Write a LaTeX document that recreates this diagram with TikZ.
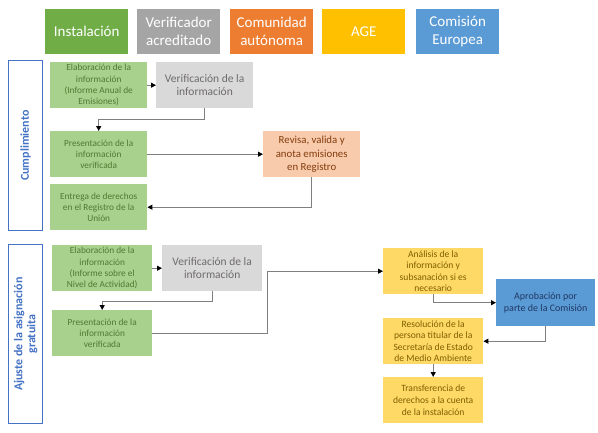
\documentclass[tikz,border=0pt]{standalone}
\usepackage{fontspec}
\setmainfont{Carlito}
\usetikzlibrary{arrows.meta}
\definecolor{hGreen}{HTML}{70AD47}
\definecolor{hGray}{HTML}{A5A5A5}
\definecolor{hOrange}{HTML}{ED7D31}
\definecolor{hGold}{HTML}{FFC000}
\definecolor{hBlue}{HTML}{5B9BD5}
\definecolor{lGreen}{HTML}{A9D18E}
\definecolor{tGreen}{HTML}{4F7A32}
\definecolor{lGray}{HTML}{D9D9D9}
\definecolor{tGray}{HTML}{6F6B6B}
\definecolor{lOrange}{HTML}{F8CBAD}
\definecolor{tOrange}{HTML}{843C0C}
\definecolor{lGold}{HTML}{FFD966}
\definecolor{tGold}{HTML}{7F6000}
\definecolor{tBlue}{HTML}{203864}
\definecolor{sideBlue}{HTML}{4472C4}
\definecolor{lineGray}{HTML}{7F7F7F}
\tikzset{
  hdr/.style={anchor=north west, minimum width=83pt, minimum height=45pt, inner sep=1pt, text=white, align=center, font=\fontsize{15}{18}\selectfont},
  boxbase/.style={anchor=north west, minimum width=97pt, minimum height=46pt, inner sep=0pt, align=center, font=\fontsize{9.3}{11.3}\selectfont},
  gbox/.style={boxbase, fill=lGreen, text=tGreen},
  vbox/.style={boxbase, fill=lGray, text=tGray, font=\fontsize{11.5}{13.5}\selectfont},
  obox/.style={boxbase, fill=lOrange, text=tOrange, font=\fontsize{10.8}{13.5}\selectfont},
  ybox/.style={boxbase, fill=lGold, text=tGold, font=\fontsize{9.6}{11.6}\selectfont},
  bbox/.style={boxbase, fill=hBlue, text=tBlue, font=\fontsize{10}{12.5}\selectfont},
  side/.style={anchor=north west, draw=sideBlue, line width=1.3pt, fill=white, minimum width=34pt, inner sep=0pt},
  sidetext/.style={rotate=90, text=sideBlue, align=center, font=\bfseries\fontsize{12}{13}\selectfont},
  conn/.style={draw=lineGray, line width=0.9pt, -{Triangle[length=5pt,width=5pt,fill=black,color=black]}}
}
\begin{document}
\begin{tikzpicture}[x=1pt, y=-1pt]
\useasboundingbox (0,0) rectangle (598,432);
% headers
\node[hdr, fill=hGreen] (h1) at (45,9) {Instalación};
\node[hdr, fill=hGray] (h2) at (137,9) {Verificador\\acreditado};
\node[hdr, fill=hOrange] (h3) at (230,9) {Comunidad\\autónoma};
\node[hdr, fill=hGold] (h4) at (322,9) {AGE};
\node[hdr, fill=hBlue] (h5) at (416,9) {Comisión\\Europea};
% side labels
\node[side, minimum height=170pt] (s1) at (8,60) {};
\node[sidetext] (s1t) at (s1.center) {Cumplimiento};
\node[side, minimum height=179pt] (s2) at (8,244) {};
\node[sidetext] (s2t) at (s2.center) {Ajuste de la asignación\\gratuita};
% Cumplimiento
\node[gbox] (elab1) at (50,62) {Elaboración de la\\información\\(Informe Anual de\\Emisiones)};
\node[vbox] (verif1) at (156,62) {Verificación de la\\información};
\node[gbox] (pres1) at (50,131) {Presentación de la\\información\\verificada};
\node[obox] (revisa) at (263,131) {Revisa, valida y\\anota emisiones\\en Registro};
\node[gbox] (entrega) at (50,184) {Entrega de derechos\\en el Registro de la\\Unión};
\draw[conn] (elab1.east) -- (verif1.west);
\draw[conn] (verif1.south) -- ++(0,11) -| (pres1.north);
\draw[conn] (pres1.east) -- (revisa.west);
\draw[conn] (revisa.south) |- (entrega.east);
% Ajuste
\node[gbox, minimum width=100pt] (elab2) at (52,245) {Elaboración de la\\información\\(Informe sobre el\\Nivel de Actividad)};
\node[vbox, minimum width=100pt] (verif2) at (162,245) {Verificación de la\\información};
\node[gbox, minimum width=100pt] (pres2) at (52,310) {Presentación de la\\información\\verificada};
\node[ybox, minimum width=100pt] (analisis) at (383,248) {Análisis de la\\información y\\subsanación si es\\necesario};
\node[bbox, minimum width=99pt, minimum height=47pt] (aprob) at (496,279) {Aprobación por\\parte de la Comisión};
\node[ybox, minimum width=100pt] (resol) at (383,318) {Resolución de la\\persona titular de la\\Secretaría de Estado\\de Medio Ambiente};
\node[ybox, minimum width=100pt] (transf) at (383,377) {Transferencia de\\derechos a la cuenta\\de la instalación};
\draw[conn] (elab2.east) -- (verif2.west);
\draw[conn] (verif2.south) -- ++(0,10) -| (pres2.north);
\draw[conn] (pres2.east) -- ++(115,0) |- (analisis.west);
\draw[conn] (analisis.south) |- (aprob.west);
\draw[conn] (aprob.south) |- (resol.east);
\draw[conn] (resol.south) -- (transf.north);
\end{tikzpicture}
\end{document}
